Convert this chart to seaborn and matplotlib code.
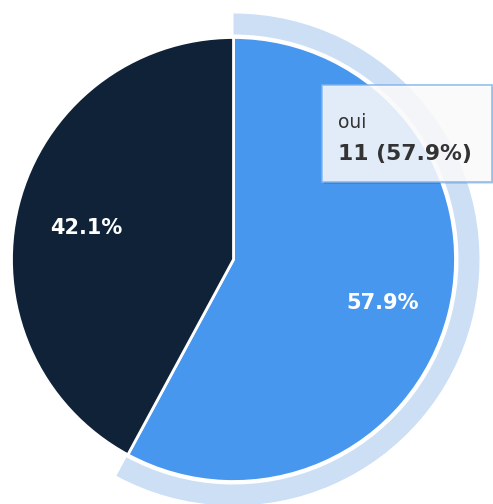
import matplotlib
matplotlib.use("Agg")
import matplotlib.pyplot as plt
import seaborn as sns
from matplotlib.patches import Wedge, FancyBboxPatch

sns.set_theme(style="white")
plt.rcParams['font.family'] = ['DejaVu Sans']

categories = ["oui", "non"]
values = [11, 8]
colors = ["#4897EF", "#0F2238"]
halo_color = "#CCDFF5"

W, H = 493, 504
fig = plt.figure(figsize=(W / 100, H / 100), dpi=100)
ax = fig.add_axes([0, 0, 1, 1])

cx, cy = 233.5, H - 259.5
R = 222

total = sum(values)
frac0 = values[0] / total

# hover halo around the first slice
halo = Wedge((cx, cy), R + 24, 90 - 360 * frac0, 90, width=21,
             facecolor=halo_color, edgecolor="none", zorder=0)
ax.add_patch(halo)

wedges, texts, autotexts = ax.pie(
    values, colors=colors, startangle=90, counterclock=False,
    center=(cx, cy), radius=R, autopct="%1.1f%%", pctdistance=0.69,
    wedgeprops=dict(edgecolor="white", linewidth=2),
    textprops=dict(color="white", fontsize=15, fontweight="bold"))
for t in autotexts:
    x, y = t.get_position()
    t.set_position((x + 1, y - 6))

# tooltip
shadow = FancyBboxPatch((324, H - 184), 170, 97, boxstyle="square,pad=0",
                        facecolor="#000000", alpha=0.12, edgecolor="none", zorder=5)
ax.add_patch(shadow)
box = FancyBboxPatch((322, H - 182), 170, 97, boxstyle="square,pad=0",
                     facecolor="white", alpha=0.85, edgecolor="#7DB3EE",
                     linewidth=1.2, zorder=6)
ax.add_patch(box)
ax.text(338, H - 122, categories[0], fontsize=13.5, color="#333333",
        va="center", ha="left", zorder=7)
ax.text(338, H - 154, f"{values[0]} ({100 * frac0:.1f}%)", fontsize=15.7,
        fontweight="bold", color="#333333", va="center", ha="left", zorder=7)

ax.set_xlim(0, W)
ax.set_ylim(0, H)
ax.set_aspect("equal")
ax.axis("off")
fig.savefig("out.png", dpi=100)
